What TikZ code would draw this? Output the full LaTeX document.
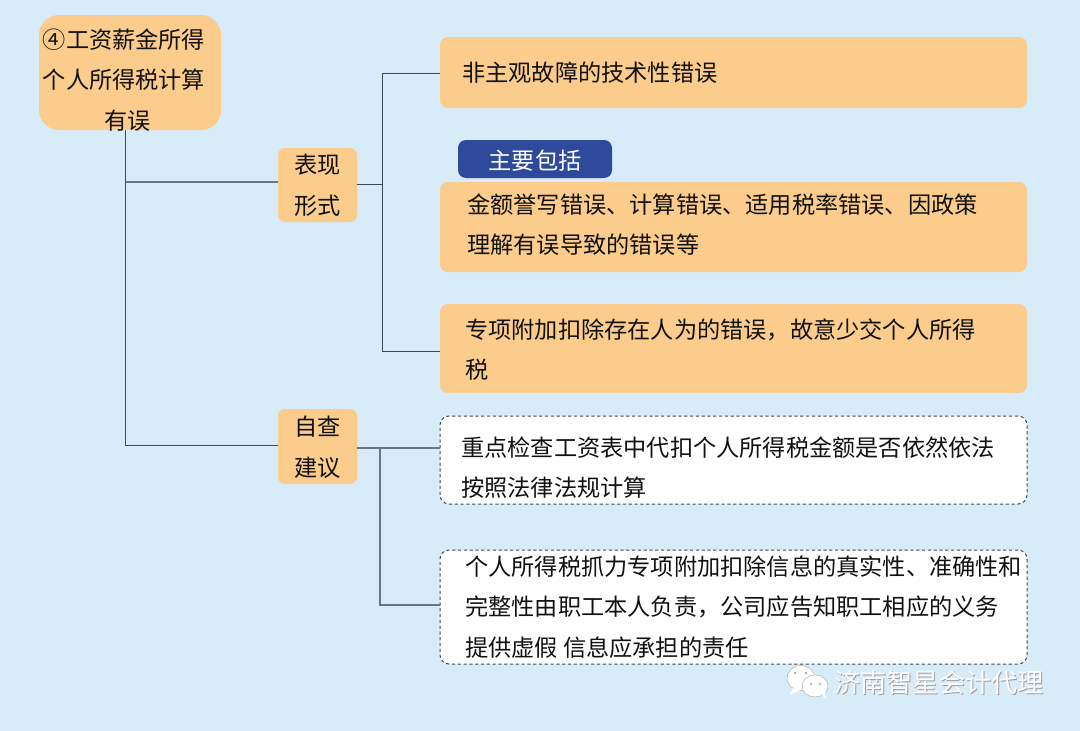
\documentclass[tikz,border=0pt]{standalone}
\usepackage{fontspec}
\setmainfont{Noto Sans CJK SC}
\definecolor{bgc}{HTML}{D7EBF8}
\definecolor{orangec}{HTML}{FBCC8C}
\definecolor{navyc}{HTML}{2F4A9B}
\definecolor{linec}{HTML}{3C4A58}
\definecolor{linegc}{HTML}{66778A}
\definecolor{txtc}{HTML}{111111}
\tikzset{
 px/.style={x=1pt,y=-1pt},
 orangebox/.style={fill=orangec,draw=none,rounded corners=8pt,inner sep=0pt},
 whitebox/.style={fill=white,draw=linec,line width=1pt,dash pattern=on 3.2pt off 2.6pt,rounded corners=9pt,inner sep=0pt},
 navybox/.style={fill=navyc,draw=none,rounded corners=8pt,inner sep=0pt},
 txt/.style={inner sep=0pt,text=txtc,font=\fontsize{23.2}{40.5}\selectfont,align=left,anchor=west},
 ctxt/.style={inner sep=0pt,text=txtc,font=\fontsize{23.2}{40.5}\selectfont,align=center,anchor=center},
 conn/.style={draw=linec,line width=1pt},
 conng/.style={draw=linegc,line width=1.5pt},
 wmark/.style={inner sep=0pt,font=\fontsize{26.2}{30}\selectfont,anchor=west},
}
\begin{document}
\begin{tikzpicture}[px]
\useasboundingbox (0,0) rectangle (1080,731);
\fill[bgc] (0,0) rectangle (1080,731);

% boxes
\node[orangebox,rounded corners=20pt,minimum width=182pt,minimum height=115pt] (root) at (130,72.5) {};
\node[orangebox,rounded corners=7pt,minimum width=79pt,minimum height=74pt] (biao) at (317.5,185) {};
\node[orangebox,rounded corners=7pt,minimum width=79pt,minimum height=75pt] (zi) at (317.5,446.5) {};
\node[orangebox,minimum width=587pt,minimum height=71pt] (b1) at (733.5,72.5) {};
\node[navybox,minimum width=154pt,minimum height=38pt] (main) at (535,159) {};
\node[orangebox,minimum width=587pt,minimum height=90pt] (b2) at (733.5,227) {};
\node[orangebox,minimum width=587pt,minimum height=89pt] (b3) at (733.5,348.5) {};
\node[whitebox,minimum width=587pt,minimum height=88pt] (b4) at (733.5,460) {};
\node[whitebox,minimum width=587pt,minimum height=114pt] (b5) at (733.5,607) {};

% connectors
\coordinate (rootfoot) at (125.5,130);
\coordinate (rj1) at (125.5,182);
\coordinate (rj2) at (125.5,445);
\coordinate (bt) at (382,73);
\coordinate (bm) at (382,184);
\coordinate (bb) at (382,351);
\coordinate (zm) at (380,448);
\coordinate (zb) at (380,605);
\draw[conn] (rootfoot) -- (rj2) -- (rj2 -| zi.west);
\draw[conng] (rj1) -- (rj1 -| biao.west);
\draw[conn] (bm -| biao.east) -- (bm);
\draw[conn] (b1.west |- bt) -- (bt) -- (bb) -- (bb -| b3.west);
\draw[conng] (zm -| zi.east) -- (zm -| b4.west);
\draw[conng] (zm) -- (zb) -- (zb -| b5.west);

% texts
\node[ctxt] (trootA) at (124,80) {④工资薪金所得\\个人所得税计算\\\hspace*{8pt}有误};
\node[ctxt] (tbiao) at (317.5,185.5) {表现\\形式};
\node[ctxt] (tzi) at (317.5,447) {自查\\建议};
\node[txt] (t1) at (462,73) {非主观故障的技术性错误};
\node[ctxt,text=white] (tmain) at (535,161) {主要包括};
\node[txt] (t2) at (467,224.5) {金额誉写错误、计算错误、适用税率错误、因政策\\理解有误导致的错误等};
\node[txt] (t3) at (465,349.5) {专项附加扣除存在人为的错误，故意少交个人所得\\税};
\node[txt] (t4) at (461,467.5) {重点检查工资表中代扣个人所得税金额是否依然依法\\按照法律法规计算};
\node[txt] (t5) at (465,607) {个人所得税抓力专项附加扣除信息的真实性、准确性和\\完整性由职工本人负责，公司应告知职工相应的义务\\提供虚假 信息应承担的责任};

% watermark
\fill[white,draw=black!30,line width=0.5pt] (801,678) ellipse (14pt and 12.5pt);
\fill[white] (793,688) -- (790,695) -- (800,690) -- cycle;
\fill[white,draw=black!30,line width=0.5pt] (815,686) ellipse (13pt and 11pt);
\fill[white] (822,695) -- (826,699) -- (825,692) -- cycle;
\fill[black!35] (795,673) circle (1.3pt) (806,673) circle (1.3pt) (811,684) circle (1.2pt) (820,684) circle (1.2pt);
\node[wmark,text=black!38] (wms) at (835,684) {济南智星会计代理};
\node[wmark,text=white] (wm) at (834,683) {济南智星会计代理};
\end{tikzpicture}
\end{document}
